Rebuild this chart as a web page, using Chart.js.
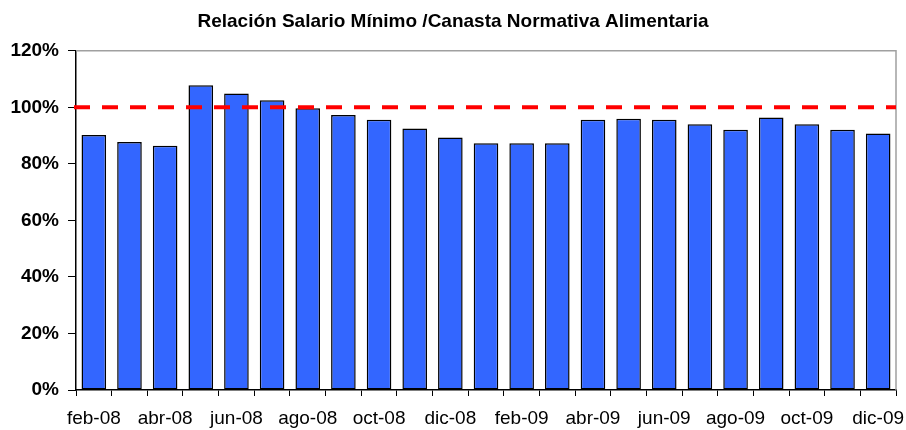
<!DOCTYPE html>
<html>
<head>
<meta charset="utf-8">
<script src="https://cdn.jsdelivr.net/npm/chart.js@4/dist/chart.umd.min.js"></script>
<style>
  html, body { margin: 0; padding: 0; background: #fff; }
  #wrap { width: 906px; height: 430px; }
</style>
</head>
<body>
<div id="wrap"><canvas id="ratioChart" width="906" height="430"></canvas></div>
<script>
// Months (feb-08 .. dic-09)
const months = ['feb-08','mar-08','abr-08','may-08','jun-08','jul-08','ago-08','sep-08','oct-08','nov-08','dic-08',
    'ene-09','feb-09','mar-09','abr-09','may-09','jun-09','jul-09','ago-09','sep-09','oct-09','nov-09','dic-09'];

// Salario mínimo / canasta normativa alimentaria (%)
const ratio = [90.2, 87.7, 86.4, 107.8, 104.9, 102.5, 99.7, 97.3, 95.6, 92.5, 89.3,
    87.3, 87.3, 87.3, 95.6, 96.0, 95.6, 94.0, 92.1, 96.4, 94.0, 92.1, 90.7];

const yTicks = [0, 20, 40, 60, 80, 100, 120];
const referenceLevel = 100;

const font = "'Liberation Sans', Arial, Helvetica, sans-serif";

// ====== dashed 100% line + gray frame ======
const framePlugin = {
    id: 'frame',
    afterDatasetsDraw(chart) {
        const { ctx, chartArea: a, scales: { y } } = chart;
        ctx.save();
        ctx.strokeStyle = '#a0a0a0';
        ctx.lineWidth = 1.5;
        ctx.beginPath();
        ctx.moveTo(a.left, a.top);
        ctx.lineTo(a.right, a.top);
        ctx.lineTo(a.right, a.bottom);
        ctx.stroke();

        const yy = y.getPixelForValue(referenceLevel);
        ctx.strokeStyle = '#ff0000';
        ctx.lineWidth = 4;
        ctx.setLineDash([16, 12]);
        ctx.beginPath();
        ctx.moveTo(a.left - 2, yy);
        ctx.lineTo(a.right, yy);
        ctx.stroke();
        ctx.restore();
    }
};

const ctx = document.getElementById('ratioChart').getContext('2d');
new Chart(ctx, {
    type: 'bar',
    data: {
        labels: months,
        datasets: [{
            data: ratio,
            backgroundColor: '#3366ff',
            borderColor: '#000000',
            borderWidth: 1.5,
            borderSkipped: false,
            barPercentage: 0.69,
            categoryPercentage: 1
        }]
    },
    options: {
        responsive: false,
        animation: false,
        layout: { padding: { left: 10, right: 10, top: 0, bottom: 0 } },
        plugins: {
            legend: { display: false },
            tooltip: { enabled: false },
            title: {
                display: true,
                text: 'Relación Salario Mínimo /Canasta Normativa Alimentaria',
                color: '#000',
                font: { family: font, size: 19, weight: 'bold' },
                padding: { top: 10, bottom: 18 }
            }
        },
        scales: {
            x: {
                grid: { display: true, drawOnChartArea: false, offset: true, color: '#000', tickLength: 6, tickWidth: 1 },
                border: { color: '#000', width: 1.5 },
                ticks: {
                    autoSkip: false,
                    maxRotation: 0,
                    color: '#000',
                    padding: 11,
                    font: { family: font, size: 19 },
                    callback: (v, i) => (i % 2 === 0 ? months[i] : '')
                },
                afterFit: (s) => { s.height = 40; s.paddingLeft = 0; s.paddingRight = 0; }
            },
            y: {
                min: 0,
                max: 120,
                afterBuildTicks: (s) => { s.ticks = yTicks.map(v => ({ value: v })); },
                grid: { display: true, drawOnChartArea: false, color: '#000', tickLength: 8, tickWidth: 1 },
                border: { color: '#000', width: 1.5 },
                ticks: {
                    color: '#000',
                    padding: 9,
                    font: { family: font, size: 19, weight: 'bold' },
                    callback: (v) => v + '%'
                },
                afterFit: (s) => { s.width = 66; }
            }
        }
    },
    plugins: [framePlugin]
});
</script>
</body>
</html>
